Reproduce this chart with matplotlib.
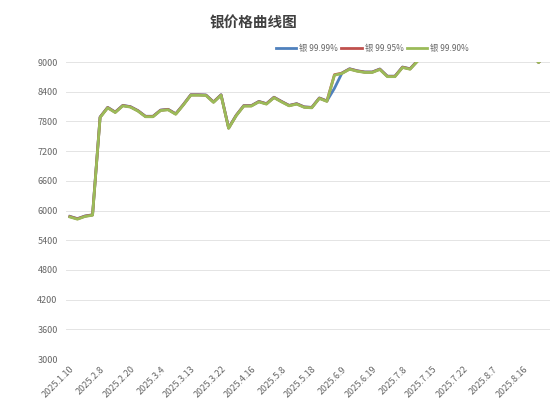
import matplotlib
matplotlib.use("Agg")
import matplotlib.pyplot as plt

plt.rcParams['font.family'] = ['Noto Sans CJK SC', 'DejaVu Sans']

# ========== DATA ==========
# every 4th category is labelled on the x axis
tick_labels = ['2025.1.10', '2025.2.8', '2025.2.20', '2025.3.4', '2025.3.13', '2025.3.22',
               '2025.4.16', '2025.5.8', '2025.5.18', '2025.6.9', '2025.6.19', '2025.7.8',
               '2025.7.15', '2025.7.22', '2025.8.7', '2025.8.16']

# values above 9000 are cut off by the axis in the reference (estimated)
silver_9999 = [5882, 5836, 5890, 5915, 7890, 8085, 7990, 8125, 8100, 8020,
               7905, 7905, 8030, 8045, 7955, 8140, 8340, 8340, 8335, 8195,
               8340, 7670, 7925, 8120, 8120, 8205, 8160, 8290, 8205, 8125,
               8160, 8095, 8085, 8275, 8215, 8470, 8780, 8865, 8825, 8800,
               8800, 8860, 8715, 8715, 8900, 8865, 9030, 9090, 9160, 9130,
               9070, 9110, 9190, 9220, 9170, 9240, 9260, 9210, 9200, 9230,
               9270, 9190, 8995, 9160]
silver_9995 = [5878, 5832, 5886, 5911, 7886, 8081, 7986, 8121, 8096, 8016,
               7901, 7901, 8026, 8041, 7951, 8136, 8336, 8336, 8331, 8191,
               8336, 7666, 7921, 8116, 8116, 8201, 8156, 8286, 8201, 8121,
               8156, 8091, 8081, 8271, 8211, 8745, 8776, 8861, 8821, 8796,
               8796, 8856, 8711, 8711, 8896, 8861, 9026, 9086, 9156, 9126,
               9066, 9106, 9186, 9216, 9166, 9236, 9256, 9206, 9196, 9226,
               9266, 9186, 8993, 9156]
silver_9990 = [5870, 5825, 5880, 5905, 7880, 8075, 7980, 8115, 8090, 8010,
               7895, 7895, 8020, 8035, 7945, 8130, 8330, 8330, 8325, 8185,
               8330, 7660, 7915, 8110, 8110, 8195, 8150, 8280, 8195, 8115,
               8150, 8085, 8075, 8265, 8205, 8735, 8770, 8855, 8815, 8790,
               8790, 8850, 8705, 8705, 8890, 8855, 9020, 9080, 9150, 9120,
               9060, 9100, 9180, 9210, 9160, 9230, 9250, 9200, 9190, 9220,
               9260, 9180, 8990, 9150]

series = [('银 99.99%', silver_9999, '#4F81BD'),
          ('银 99.95%', silver_9995, '#C0504D'),
          ('银 99.90%', silver_9990, '#9BBB59')]
# ==========================

fig = plt.figure(figsize=(5.6, 4.11), dpi=100)
ax = fig.add_axes([0.118, 0.1265, 0.864, 0.7225])

x = list(range(len(silver_9990)))
for name, vals, color in series:
    ax.plot(x, vals, color=color, linewidth=2.0, label=name, solid_joinstyle='round')

ax.set_xlim(-0.5, len(x) - 0.5)
ax.set_ylim(3000, 9000)
ax.set_yticks(range(3000, 9001, 600))
ax.set_xticks(range(0, len(x), 4))
ax.set_xticklabels(tick_labels, rotation=45, ha='right', rotation_mode='anchor')

ax.grid(axis='y', color='#E4E4E4', linewidth=0.7)
ax.set_axisbelow(True)
for side in ['top', 'right', 'left', 'bottom']:
    ax.spines[side].set_visible(False)
ax.tick_params(axis='both', length=0, labelsize=6.5, colors='#666666')
ax.tick_params(axis='y', pad=6)
ax.tick_params(axis='x', pad=4)

fig.text(0.452, 0.945, '银价格曲线图', ha='center', va='center',
         fontsize=10.5, fontweight='bold', color='#404040')

ax.legend(loc='center', bbox_to_anchor=(0.633, 1.045), ncol=3, frameon=False,
          fontsize=6, handlelength=2.5, handletextpad=0.35, columnspacing=0.35,
          labelcolor='#666666')

fig.savefig('out.png', dpi=100)
